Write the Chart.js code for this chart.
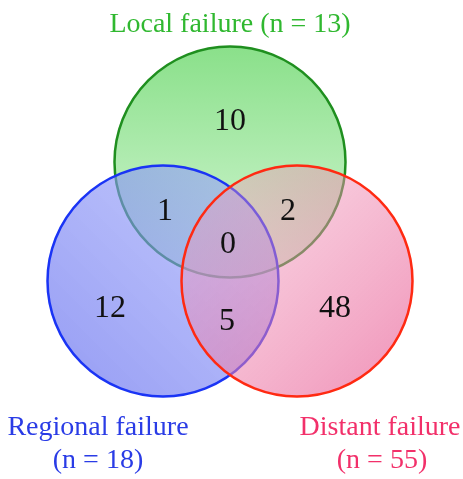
<!DOCTYPE html>
<html>
<head>
<meta charset="utf-8">
<script src="https://cdn.jsdelivr.net/npm/chart.js@4/dist/chart.umd.min.js"></script>
<style>
html,body{margin:0;padding:0;background:#fff;}
#wrap{width:463px;height:479px;}
</style>
</head>
<body>
<div id="wrap"><canvas id="c" width="463" height="479"></canvas></div>
<script>
// ---- data ----
const setNames = ['Local failure', 'Regional failure', 'Distant failure'];
const setTotals = [13, 18, 55];
const regionNames = ['Local only', 'Local & Regional', 'Local & Distant', 'All three', 'Regional only', 'Distant only', 'Regional & Distant'];
const regionCounts = [10, 1, 2, 0, 12, 48, 5];

// ---- layout (units on a 463 x 479 plane) ----
const circleCenters = [[230, 162], [163, 281], [297, 281]];
const circleRadius = 115.5;
const regionPos = [[230, 130], [165, 220], [288, 220], [228, 253], [110, 317], [335, 317], [227, 330]];
const setLabelPos = [
  [[230, 32, '']],
  [[98, 435, 'name'], [98, 468, 'n']],
  [[380, 435, 'name'], [382, 468, 'n']]
];
const strokeColors = ['#1f8f1f', '#1a34f5', '#ff2a12'];
const textColors = ['#30b830', '#2a3ce6', '#f2306a'];

function pix(chart, x, y) {
  return [chart.scales.x.getPixelForValue(x), chart.scales.y.getPixelForValue(y)];
}
function radPix(chart) {
  const s = chart.scales.x;
  const v = s ? s.getPixelForValue(circleRadius) - s.getPixelForValue(0) : NaN;
  return isFinite(v) && v > 0 ? v : circleRadius;
}

const gradients = [
  (c, cx, cy, r) => {
    const g = c.createLinearGradient(0, cy - r, 0, cy + r);
    g.addColorStop(0, 'rgb(138,224,138)');
    g.addColorStop(1, 'rgb(215,247,215)');
    return g;
  },
  (c, cx, cy, r) => {
    const g = c.createLinearGradient(cx - r * 0.7, cy + r * 0.7, cx + r * 0.7, cy - r * 0.7);
    g.addColorStop(0, 'rgba(105,115,240,0.66)');
    g.addColorStop(1, 'rgba(150,160,250,0.6)');
    return g;
  },
  (c, cx, cy, r) => {
    const g = c.createLinearGradient(cx - r * 0.7, cy - r * 0.7, cx + r * 0.7, cy + r * 0.7);
    g.addColorStop(0, 'rgba(240,150,185,0.4)');
    g.addColorStop(1, 'rgba(235,110,160,0.66)');
    return g;
  }
];

function circleDataset(i, order) {
  return {
    label: setNames[i],
    data: [{x: circleCenters[i][0], y: circleCenters[i][1]}],
    order: order,
    clip: false,
    radius: ctx => radPix(ctx.chart),
    borderColor: strokeColors[i],
    borderWidth: 2.5,
    backgroundColor: ctx => {
      const chart = ctx.chart;
      const [cx, cy] = pix(chart, circleCenters[i][0], circleCenters[i][1]);
      if (!isFinite(cx) || !isFinite(cy)) return 'transparent';
      return gradients[i](chart.ctx, cx, cy, radPix(chart));
    }
  };
}

const textPlugin = {
  id: 'vennText',
  afterDatasetsDraw(chart) {
    const c = chart.ctx;
    c.save();
    c.textAlign = 'center';
    c.textBaseline = 'alphabetic';
    const meta = chart.getDatasetMeta(3);
    c.font = '32px "Liberation Serif", "Times New Roman", serif';
    c.fillStyle = '#111';
    meta.data.forEach((el, k) => {
      c.fillText(String(regionCounts[k]), el.x, el.y);
    });
    c.font = '28px "Liberation Serif", "Times New Roman", serif';
    setLabelPos.forEach((lines, i) => {
      c.fillStyle = textColors[i];
      lines.forEach(([x, y, kind]) => {
        const [px, py] = pix(chart, x, y);
        let t;
        if (kind === 'name') t = setNames[i];
        else if (kind === 'n') t = '(n = ' + setTotals[i] + ')';
        else t = setNames[i] + ' (n = ' + setTotals[i] + ')';
        c.fillText(t, px, py);
      });
    });
    c.restore();
  }
};

const chart = new Chart(document.getElementById('c'), {
  type: 'bubble',
  data: {
    datasets: [
      circleDataset(2, 1),
      circleDataset(1, 2),
      circleDataset(0, 3),
      {
        type: 'scatter',
        label: 'counts',
        order: 0,
        data: regionPos.map(p => ({x: p[0], y: p[1]})),
        pointRadius: 0,
        pointHoverRadius: 0
      }
    ]
  },
  options: {
    responsive: false,
    animation: false,
    events: [],
    layout: {padding: 0, autoPadding: false},
    plugins: {legend: {display: false}, tooltip: {enabled: false}},
    scales: {
      x: {type: 'linear', min: 0, max: 463, display: false},
      y: {type: 'linear', min: 0, max: 479, reverse: true, display: false}
    }
  },
  plugins: [textPlugin]
});
chart.update();
</script>
</body>
</html>
